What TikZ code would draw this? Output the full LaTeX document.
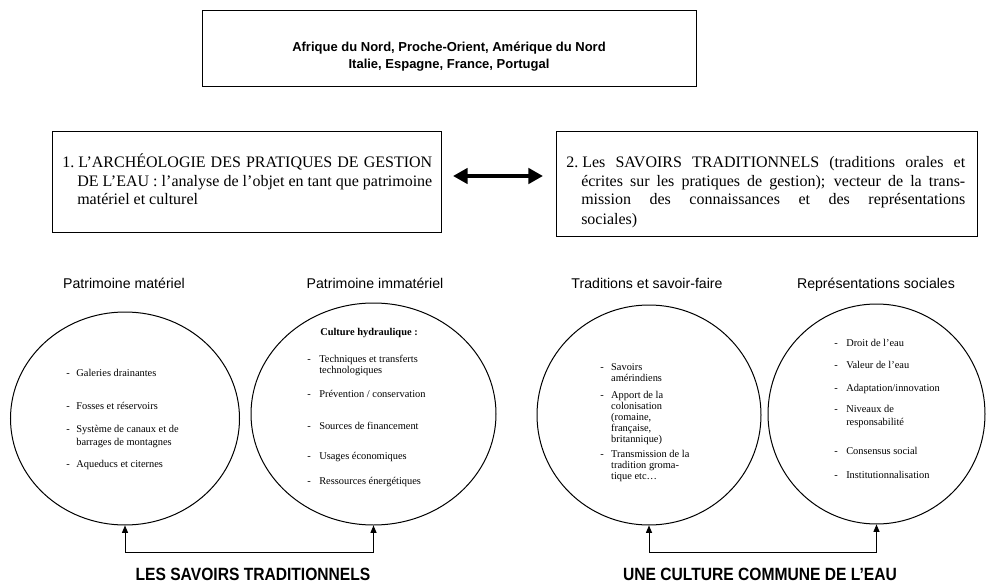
\documentclass[tikz,border=0pt]{standalone}
\usepackage{fontspec}
\setmainfont{Liberation Serif}
\setsansfont{Liberation Sans}
\newfontfamily\narrowsf[FakeStretch=0.88]{Liberation Sans}
\usetikzlibrary{shapes.geometric,arrows.meta}
\newcommand\jl[2]{\makebox[#1][s]{#2}}
\begin{document}
\begin{tikzpicture}[x=0.75pt,y=-0.75pt,
  box/.style={draw,line width=0.75pt,inner sep=0,anchor=north west},
  oval/.style={draw,ellipse,line width=0.75pt,inner sep=0},
  head/.style={font=\sffamily\fontsize{10.6}{12}\selectfont,anchor=base,inner sep=0},
  itm/.style={font=\fontsize{7.8}{8.25}\selectfont,anchor=base west,inner sep=0},
  itmw/.style={font=\fontsize{7.8}{9.75}\selectfont,anchor=base west,inner sep=0},
  btxt/.style={font=\fontsize{12}{14.25}\selectfont,anchor=base west,inner sep=0},
  lbl/.style={font=\narrowsf\bfseries\fontsize{13.3}{15}\selectfont,anchor=base,inner sep=0},
  conn/.style={line width=0.75pt,{Triangle[length=5.5pt,width=4.5pt]}-{Triangle[length=5.5pt,width=4.5pt]}},
  dbl/.style={line width=3pt,{Triangle[length=11pt,width=11.5pt]}-{Triangle[length=11pt,width=11.5pt]}}]
\useasboundingbox (0,0) rectangle (986,585);

% top box
\node[box,minimum width=370.5pt,minimum height=57pt] (top) at (202,10) {};
\node[anchor=base,inner sep=0,font=\sffamily\bfseries\fontsize{9.75}{12.75}\selectfont] (toptxt) at (449,52)
  {\begin{tabular}[t]{@{}c@{}}Afrique du Nord, Proche-Orient, Amérique du Nord\\Italie, Espagne, France, Portugal\end{tabular}};

% middle boxes
\node[box,minimum width=291.75pt,minimum height=75.75pt] (b1) at (52,131) {};
\node[btxt] (t1) at (62,167) {\begin{tabular}[t]{@{}l@{}}%
\jl{277.5pt}{1.\hspace{3pt}L’ARCHÉOLOGIE DES PRATIQUES DE GESTION}\\
\hspace*{11.25pt}\jl{266.25pt}{DE L’EAU : l’analyse de l’objet en tant que patrimoine}\\
\hspace*{11.25pt}matériel et culturel\end{tabular}};

\node[box,minimum width=315.75pt,minimum height=78.75pt] (b2) at (556,131) {};
\node[btxt] (t2) at (566,167) {\begin{tabular}[t]{@{}l@{}}%
\jl{299.25pt}{2.\hspace{3pt}Les SAVOIRS TRADITIONNELS (traditions orales et}\\
\hspace*{11.25pt}\jl{288pt}{écrites sur les pratiques de gestion); vecteur de la trans-}\\
\hspace*{11.25pt}\jl{288pt}{mission des connaissances et des représentations}\\
\hspace*{11.25pt}sociales)\end{tabular}};

\coordinate (da) at (453,176);
\coordinate (db) at (543,176);
\draw[dbl] (da) -- (db);

% headings
\node[head] (h1) at (124,288) {Patrimoine matériel};
\node[head] (h2) at (375,288) {Patrimoine immatériel};
\node[head] (h3) at (647,288) {Traditions et savoir-faire};
\node[head] (h4) at (876,288) {Représentations sociales};

% circles
\node[oval,minimum width=171.75pt,minimum height=159.75pt] (c1) at (125,418.5) {};
\node[oval,minimum width=183.75pt,minimum height=166.5pt] (c2) at (373.5,414) {};
\node[oval,minimum width=168pt,minimum height=165pt] (c3) at (649,415) {};
\node[oval,minimum width=162.75pt,minimum height=165pt] (c4) at (876.5,414) {};

% circle 1 items
\node[itm] (a1) at (66,376.5) {\begin{tabular}[t]{@{}l@{\hspace{5pt}}l@{}}-&Galeries drainantes\end{tabular}};
\node[itm] (a2) at (66,409.5) {\begin{tabular}[t]{@{}l@{\hspace{5pt}}l@{}}-&Fosses et réservoirs\end{tabular}};
\node[itmw] (a3) at (66,432.5) {\begin{tabular}[t]{@{}l@{\hspace{5pt}}l@{}}-&Système de canaux et de\\&barrages de montagnes\end{tabular}};
\node[itm] (a4) at (66,467.5) {\begin{tabular}[t]{@{}l@{\hspace{5pt}}l@{}}-&Aqueducs et citernes\end{tabular}};

% circle 2 items
\node[itm,anchor=base,font=\bfseries\fontsize{7.8}{8.25}\selectfont] (ch) at (369,335.5) {Culture hydraulique :};
\node[itm] (b21) at (307,362.5) {\begin{tabular}[t]{@{}l@{\hspace{6.4pt}}l@{}}-&Techniques et transferts\\&technologiques\end{tabular}};
\node[itm] (b22) at (307,397.5) {\begin{tabular}[t]{@{}l@{\hspace{6.4pt}}l@{}}-&Prévention / conservation\end{tabular}};
\node[itm] (b23) at (307,429.5) {\begin{tabular}[t]{@{}l@{\hspace{6.4pt}}l@{}}-&Sources de financement\end{tabular}};
\node[itm] (b24) at (307,459.5) {\begin{tabular}[t]{@{}l@{\hspace{6.4pt}}l@{}}-&Usages économiques\end{tabular}};
\node[itm] (b25) at (307,484.5) {\begin{tabular}[t]{@{}l@{\hspace{6.4pt}}l@{}}-&Ressources énergétiques\end{tabular}};

% circle 3 items
\node[itm] (d1) at (600,370.5) {\begin{tabular}[t]{@{}l@{\hspace{5.6pt}}l@{}}-&Savoirs\\&amérindiens\end{tabular}};
\node[itm] (d2) at (600,398.5) {\begin{tabular}[t]{@{}l@{\hspace{5.6pt}}l@{}}-&Apport de la\\&colonisation\\&(romaine,\\&française,\\&britannique)\end{tabular}};
\node[itm] (d3) at (600,457.5) {\begin{tabular}[t]{@{}l@{\hspace{5.6pt}}l@{}}-&Transmission de la\\&tradition groma-\\&tique etc…\end{tabular}};

% circle 4 items
\node[itm] (e1) at (834,346.5) {\begin{tabular}[t]{@{}l@{\hspace{6.4pt}}l@{}}-&Droit de l’eau\end{tabular}};
\node[itm] (e2) at (834,368.5) {\begin{tabular}[t]{@{}l@{\hspace{6.4pt}}l@{}}-&Valeur de l’eau\end{tabular}};
\node[itm] (e3) at (834,391.5) {\begin{tabular}[t]{@{}l@{\hspace{6.4pt}}l@{}}-&Adaptation/innovation\end{tabular}};
\node[itmw] (e4) at (834,412.5) {\begin{tabular}[t]{@{}l@{\hspace{6.4pt}}l@{}}-&Niveaux de\\&responsabilité\end{tabular}};
\node[itm] (e5) at (834,454.5) {\begin{tabular}[t]{@{}l@{\hspace{6.4pt}}l@{}}-&Consensus social\end{tabular}};
\node[itm] (e6) at (834,478.5) {\begin{tabular}[t]{@{}l@{\hspace{6.4pt}}l@{}}-&Institutionnalisation\end{tabular}};

% connectors
\draw[conn] (c1.south) -- ++(0,27) -| (c2.south);
\draw[conn] (c3.south) -- ++(0,27) -| (c4.south);

% bottom labels
\node[lbl] (l1) at (253,580) {LES SAVOIRS TRADITIONNELS};
\node[lbl] (l2) at (760,580) {UNE CULTURE COMMUNE DE L’EAU};
\end{tikzpicture}
\end{document}
